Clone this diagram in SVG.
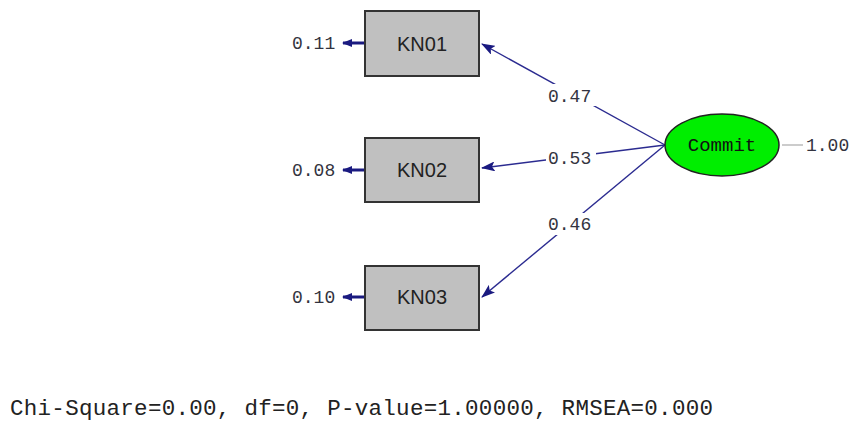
<svg xmlns="http://www.w3.org/2000/svg" width="850" height="421" viewBox="0 0 850 421">
<style>
.box{fill:#c0c0c0;stroke:#333;stroke-width:2}
.bt{font-family:"Liberation Sans",Arial,sans-serif;font-size:20px;fill:#222;text-anchor:middle;dominant-baseline:central}
.m{font-family:"Liberation Mono","Courier New",monospace;font-size:18px;fill:#333340}
.path{stroke:#2b2b90;stroke-width:1.4;fill:none}
.err{stroke:#1a1a80;stroke-width:3;fill:none}
</style>
<defs>
<marker id="ah" markerUnits="userSpaceOnUse" markerWidth="14" markerHeight="10" refX="13" refY="5" orient="auto">
<path d="M0,0 L14,5 L0,10 L3,5 Z" fill="#1a1a80"/>
</marker>
<marker id="eh" markerUnits="userSpaceOnUse" markerWidth="10" markerHeight="10" refX="9" refY="5" orient="auto">
<path d="M0,1 L10,5 L0,9 Z" fill="#1a1a80"/>
</marker>
</defs>
<g id="connectors">
<line class="path" x1="665" y1="145" x2="482" y2="44" marker-end="url(#ah)"/>
<line class="path" x1="665" y1="145" x2="482" y2="168" marker-end="url(#ah)"/>
<line class="path" x1="665" y1="145" x2="482" y2="297" marker-end="url(#ah)"/>
<line class="err" x1="365" y1="43" x2="343" y2="43" marker-end="url(#eh)"/>
<line class="err" x1="365" y1="170" x2="343" y2="170" marker-end="url(#eh)"/>
<line class="err" x1="365" y1="297" x2="343" y2="297" marker-end="url(#eh)"/>
<line x1="782" y1="145" x2="803" y2="145" stroke="#aaa" stroke-width="1.2"/>
<rect x="546" y="84" width="50" height="22" fill="#fff"/>
<rect x="546" y="147" width="50" height="22" fill="#fff"/>
<rect x="546" y="213" width="50" height="22" fill="#fff"/>
<text class="m" x="548" y="102">0.47</text>
<text class="m" x="548" y="164">0.53</text>
<text class="m" x="548" y="230">0.46</text>
</g>
<g id="KN01">
<rect class="box" x="365" y="11" width="114" height="65"/>
<text class="bt" x="422" y="44">KN01</text>
<text class="m" x="292" y="49">0.11</text>
</g>
<g id="KN02">
<rect class="box" x="365" y="138" width="114" height="64"/>
<text class="bt" x="422" y="170">KN02</text>
<text class="m" x="292" y="176">0.08</text>
</g>
<g id="KN03">
<rect class="box" x="365" y="266" width="114" height="64"/>
<text class="bt" x="422" y="297">KN03</text>
<text class="m" x="292" y="303">0.10</text>
</g>
<g id="Commit">
<ellipse cx="722" cy="145" rx="57" ry="31" fill="#00ee00" stroke="#222" stroke-width="1.5"/>
<text class="m" x="722" y="151" text-anchor="middle" style="font-size:19px;fill:#111">Commit</text>
<text class="m" x="806" y="151">1.00</text>
</g>
<text x="10" y="415" textLength="703" lengthAdjust="spacing" style="font-family:'Liberation Mono','Courier New',monospace;font-size:22.5px;fill:#222">Chi-Square=0.00, df=0, P-value=1.00000, RMSEA=0.000</text>
</svg>
